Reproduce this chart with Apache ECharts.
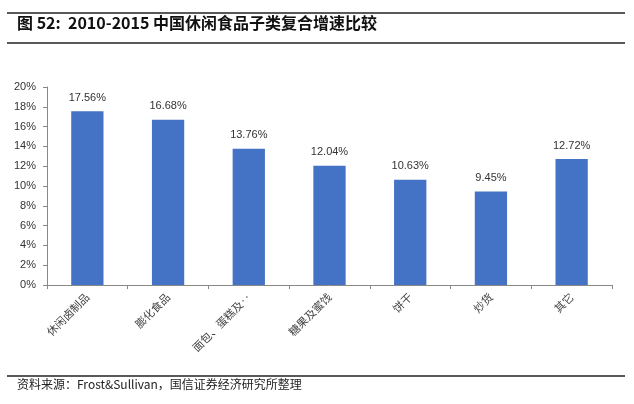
<!DOCTYPE html>
<html><head><meta charset="utf-8">
<script src="https://cdn.jsdelivr.net/npm/echarts@6/dist/echarts.min.js"></script>
<style>html,body{margin:0;padding:0;background:#fff}#c{width:634px;height:404px}</style>
</head><body><div id="c"></div>
<script>
const categories = ['休闲卤制品','膨化食品','面包、蛋糕及‥','糖果及蜜饯','饼干','炒货','其它'];
const values = [17.56, 16.68, 13.76, 12.04, 10.63, 9.45, 12.72];
const yTicks = {min: 0, max: 20, interval: 2};
const titleText = '图 52:  2010-2015 中国休闲食品子类复合增速比较';
const sourceText = '资料来源：Frost&Sullivan，国信证券经济研究所整理';

const chart = echarts.init(document.getElementById('c'), null, {renderer: 'canvas'});
const cjk = '"Noto Sans CJK SC", "Liberation Sans", sans-serif';
chart.setOption({
  animation: false,
  backgroundColor: '#fff',
  grid: {left: 47, right: 22, top: 87, bottom: 119},
  xAxis: {
    type: 'category', data: categories,
    axisLine: {lineStyle: {color: '#888', width: 1}},
    axisTick: {show: true, alignWithLabel: false, length: 4, lineStyle: {color: '#888'}},
    axisLabel: {rotate: 45, color: '#444', fontSize: 11, fontFamily: cjk, margin: 10, interval: 0}
  },
  yAxis: {
    type: 'value', min: yTicks.min, max: yTicks.max, interval: yTicks.interval,
    axisLine: {show: true, lineStyle: {color: '#888', width: 1}},
    axisTick: {show: true, length: 4, lineStyle: {color: '#888'}},
    splitLine: {show: false},
    axisLabel: {color: '#333', fontSize: 11, fontFamily: '"Liberation Sans", sans-serif', margin: 11, formatter: v => v + '%'}
  },
  series: [{
    type: 'bar', data: values, barWidth: '40%',
    itemStyle: {color: '#4472C4'},
    label: {show: true, position: 'top', distance: 8, color: '#333', fontSize: 11,
      fontFamily: '"Liberation Sans", sans-serif', formatter: p => p.value.toFixed(2) + '%'}
  }],
  graphic: [
    {type: 'line', shape: {x1: 7, y1: 13, x2: 625, y2: 13}, style: {stroke: '#222', lineWidth: 1.5}},
    {type: 'text', left: 17, top: 15, style: {text: titleText, font: 'bold 16px ' + cjk, fill: '#111'}},
    {type: 'line', shape: {x1: 7, y1: 43, x2: 625, y2: 43}, style: {stroke: '#222', lineWidth: 1.5}},
    {type: 'line', shape: {x1: 7, y1: 376, x2: 625, y2: 376}, style: {stroke: '#222', lineWidth: 1.5}},
    {type: 'text', left: 17, top: 378, style: {text: sourceText, font: '12px ' + cjk, fill: '#222'}}
  ]
});
</script></body></html>
